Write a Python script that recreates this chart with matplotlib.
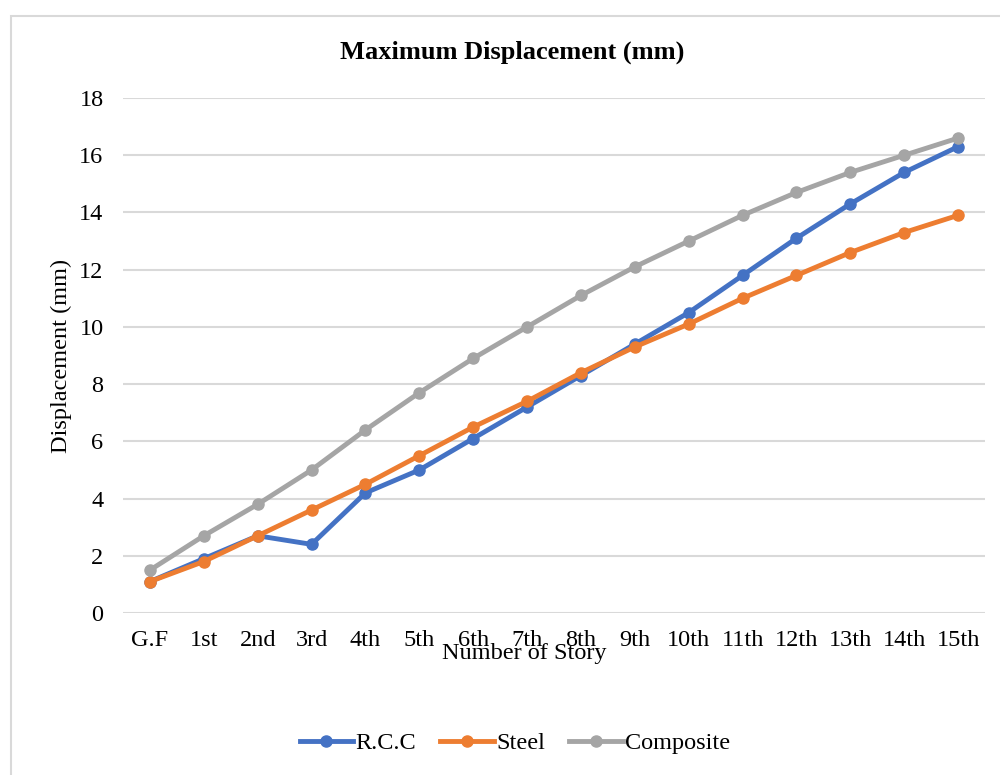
import matplotlib.pyplot as plt
from matplotlib.patches import Rectangle

plt.rcParams['font.family'] = ['Liberation Serif', 'DejaVu Serif']

stories = ['G.F', '1st', '2nd', '3rd', '4th', '5th', '6th', '7th',
           '8th', '9th', '10th', '11th', '12th', '13th', '14th', '15th']
rcc = [1.1, 1.9, 2.7, 2.4, 4.2, 5.0, 6.1, 7.2, 8.3, 9.4, 10.5, 11.8, 13.1, 14.3, 15.4, 16.3]
steel = [1.1, 1.8, 2.7, 3.6, 4.5, 5.5, 6.5, 7.4, 8.4, 9.3, 10.1, 11.0, 11.8, 12.6, 13.3, 13.9]
composite = [1.5, 2.7, 3.8, 5.0, 6.4, 7.7, 8.9, 10.0, 11.1, 12.1, 13.0, 13.9, 14.7, 15.4, 16.0, 16.6]
y_ticks = [0, 2, 4, 6, 8, 10, 12, 14, 16, 18]

fig = plt.figure(figsize=(10, 7.75), dpi=100)
ax = fig.add_axes([0.123, 0.209, 0.862, 0.6645])

# chart-area border like the Excel frame
fig.patches.append(Rectangle((0.011, -0.05), 1.05, 1.03, transform=fig.transFigure,
                             fill=False, edgecolor='#d9d9d9', linewidth=1.5))

x = list(range(len(stories)))
series = [('R.C.C', rcc, '#4472c4'), ('Steel', steel, '#ed7d31'),
          ('Composite', composite, '#a5a5a5')]
for name, vals, col in series:
    ax.plot(x, vals, color=col, linewidth=3.5, marker='o', markersize=8,
            label=name, zorder=3)

ax.set_xlim(-0.5, len(stories) - 0.5)
ax.set_ylim(0, 18)
ax.set_yticks(y_ticks)
ax.set_xticks(x)
ax.set_xticklabels(stories)
ax.tick_params(axis='both', length=0, labelsize=17.5, colors='black')
ax.tick_params(axis='x', pad=12)
ax.tick_params(axis='y', pad=14)
ax.grid(axis='y', color='#d9d9d9', linewidth=1.5)
ax.set_axisbelow(True)
for s in ax.spines.values():
    s.set_visible(False)

fig.text(0.512, 0.933, 'Maximum Displacement (mm)', fontsize=19, fontweight='bold',
         ha='center', va='center')
ax.set_ylabel('Displacement (mm)', fontsize=17.5, labelpad=5)
ax.set_xlabel('Number of Story', fontsize=17.5)
ax.xaxis.set_label_coords(0.466, -0.058)

fig.legend(loc='center', bbox_to_anchor=(0.515, 0.041), ncol=3, frameon=False,
           fontsize=17.5, handlelength=2.2, columnspacing=1.0, handletextpad=0.1)

fig.savefig('out.png', dpi=100)
